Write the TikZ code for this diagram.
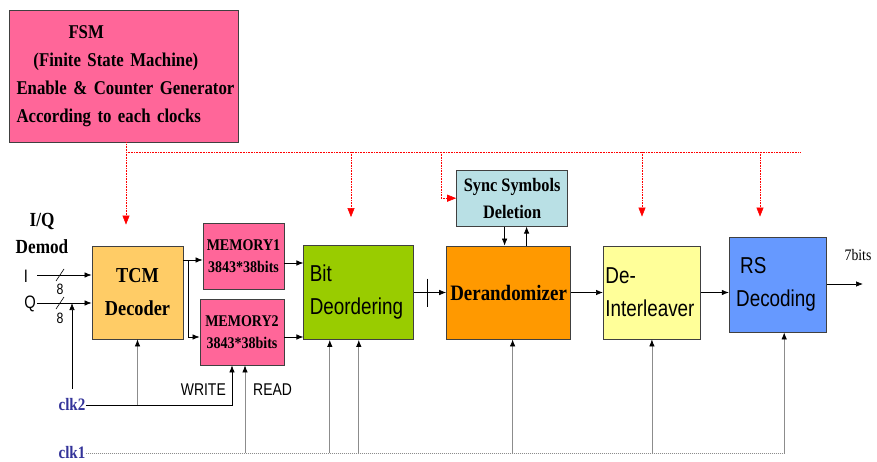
\documentclass[tikz,border=0pt]{standalone}
\usepackage{fontspec}
\usepackage{xcolor}
\usetikzlibrary{arrows.meta, positioning}
\newfontfamily\timesc[FakeStretch=0.86]{Liberation Serif}
\newfontfamily\gulim[FakeStretch=0.82]{Liberation Sans}
\definecolor{fsmpink}{HTML}{FF6699}
\definecolor{tcmorange}{HTML}{FFCC66}
\definecolor{bitgreen}{HTML}{99CC00}
\definecolor{syncblue}{HTML}{B9E0E5}
\definecolor{derandorange}{HTML}{FF9900}
\definecolor{deintyellow}{HTML}{FFFF99}
\definecolor{rsblue}{HTML}{6699FF}
\definecolor{clknavy}{HTML}{333399}

\begin{document}
\begin{tikzpicture}[
    x=1pt, y=-1pt,
    block/.style={draw=black!75, line width=0.8pt, inner sep=0pt, align=center},
    serifbox/.style={block, font=\timesc\bfseries},
    sansbox/.style={block, align=left, font=\gulim\fontsize{23}{33}\selectfont},
    lab/.style={inner sep=0pt, align=center},
    arr/.style={-{Latex[length=7pt,width=5.5pt]}, line width=0.7pt},
    clkarr/.style={-{Latex[length=7pt,width=5.5pt,color=black]}, draw=black!45, line width=0.8pt},
    clkbus/.style={draw=black!45, densely dotted, line width=1pt},
    ctl/.style={-{Triangle[length=9pt,width=7pt]}, red, densely dotted, line width=0.6pt}
  ]
  \useasboundingbox (0,0) rectangle (877,462);

  % blocks
  \node[serifbox, fill=fsmpink, align=left, text width=224pt, inner xsep=2.5pt, minimum height=132pt,
        font=\timesc\bfseries\fontsize{19.5}{28}\selectfont] (fsm) at (123.5,76)
    {\hspace*{57pt}FSM\\ \hspace*{22pt}(Finite State Machine)\\ \hspace*{5pt}Enable \& Counter Generator\\ \hspace*{5pt}According to each clocks\\[-8pt]};
  \node[serifbox, fill=tcmorange, minimum width=91pt, minimum height=93pt,
        font=\timesc\bfseries\fontsize{21.3}{33}\selectfont] (tcm) at (137.5,292.5) {TCM\\Decoder};
  \node[serifbox, fill=fsmpink, minimum width=81pt, minimum height=66pt,
        font=\timesc\bfseries\fontsize{16.3}{22}\selectfont] (mem1) at (243.5,256) {MEMORY1\\3843*38bits};
  \node[serifbox, fill=fsmpink, minimum width=84pt, minimum height=66pt,
        font=\timesc\bfseries\fontsize{16.3}{22}\selectfont] (mem2) at (242,332) {MEMORY2\\3843*38bits};
  \node[sansbox, fill=bitgreen, text width=98pt, inner xsep=6pt, minimum height=94pt,
        right=120pt of tcm] (bit) {Bit\\Deordering};
  \node[serifbox, fill=derandorange, minimum width=124pt, minimum height=93pt,
        font=\timesc\bfseries\fontsize{22}{26}\selectfont, right=32pt of bit] (derand) {Derandomizer};
  \node[serifbox, fill=syncblue, minimum width=111pt, minimum height=56pt,
        font=\timesc\bfseries\fontsize{19}{27}\selectfont, above=19pt of derand, xshift=3.5pt] (sync) {Sync Symbols\\Deletion};
  \node[sansbox, fill=deintyellow, text width=93pt, inner xsep=2pt, minimum height=93pt,
        right=32pt of derand] (deint) {De-\\Interleaver};
  \node[sansbox, fill=rsblue, text width=83pt, inner xsep=7pt, minimum height=95pt,
        right=28pt of deint, yshift=8pt] (rs) {\hspace*{4pt}RS\\Decoding};

  % labels
  \node[lab, font=\timesc\bfseries\fontsize{20}{27}\selectfont] (iq) at (42,233) {I/Q\\Demod};
  \node[lab, font=\gulim\fontsize{18}{20}\selectfont] (ilab) at (26,276) {I};
  \node[lab, font=\gulim\fontsize{18}{20}\selectfont] (qlab) at (30,304) {Q};
  \node[lab, font=\gulim\fontsize{15}{17}\selectfont] (ibits) at (60,289) {8};
  \node[lab, font=\gulim\fontsize{15}{17}\selectfont] (qbits) at (60,318) {8};
  \node[lab, font=\timesc\bfseries\fontsize{17.5}{20}\selectfont, text=clknavy] (clk2) at (72,405) {clk2};
  \node[lab, font=\timesc\bfseries\fontsize{17.5}{20}\selectfont, text=clknavy] (clk1) at (72,453) {clk1};
  \node[lab, font=\gulim\fontsize{17}{19}\selectfont, anchor=east] (write) at (226,390) {WRITE};
  \node[lab, font=\gulim\fontsize{17}{19}\selectfont, anchor=west] (read) at (253,390) {READ};
  \node[lab, font=\timesc\fontsize{16}{18}\selectfont] (bits) at (858,255) {7bits};

  \coordinate (iin) at (37,275);
  \coordinate (qin) at (37,303);
  \coordinate (split) at (188,260);
  \coordinate (out) at (863,284);
  \coordinate (bus) at (126,152);
  \coordinate (busend) at (801,152);
  \coordinate (b1) at (351,152);
  \coordinate (b2) at (441,152);
  \coordinate (b3) at (642,152);
  \coordinate (b4) at (760,152);

  % I/Q inputs
  \draw[arr] (iin) -- (iin -| tcm.west);
  \draw[line width=0.6pt] (iin -| ibits) +(-4,6) -- +(4,-6);
  \draw[arr] (qin) -- (qin -| tcm.west);
  \draw[line width=0.6pt] (qin -| qbits) +(-4,6) -- +(4,-6);
  \draw[arr] ([yshift=10pt]clk2.north) -- (clk2 |- qin);

  % data path
  \draw[line width=0.7pt] (split -| tcm.east) -- (split);
  \draw[arr] (split) -- (split -| mem1.west);
  \draw[arr] (split) |- ([yshift=-5pt]mem2.west);
  \draw[arr] ([yshift=-7pt]mem1.east) -- ([yshift=-7pt]mem1.east -| bit.west);
  \draw[arr] ([yshift=-5pt]mem2.east) -- ([yshift=-5pt]mem2.east -| bit.west);
  \draw[arr] (bit.east) -- (bit.east -| derand.west);
  \draw[line width=0.7pt] ([xshift=13pt]bit.east) +(0,-14) -- +(0,14);
  \draw[arr] ([xshift=-7.5pt]sync.south) -- ([xshift=-7.5pt]sync.south |- derand.north);
  \draw[arr] ([xshift=14.5pt]sync.south |- derand.north) -- ([xshift=14.5pt]sync.south);
  \draw[arr] (derand.east) -- (derand.east -| deint.west);
  \draw[arr] (deint.east) -- (deint.east -| rs.west);
  \draw[arr] (out -| rs.east) -- (out);

  % FSM control bus
  \draw[red, densely dotted, line width=0.6pt] (fsm.south -| bus) -- (bus) -- (busend);
  \draw[ctl, shorten >=21pt] (bus) -- (bus |- tcm.north);
  \draw[ctl, shorten >=28pt] (b1) -- (b1 |- bit.north);
  \draw[ctl] (b2) |- (sync.west);
  \draw[ctl, shorten >=29pt] (b3) -- (b3 |- deint.north);
  \draw[ctl, shorten >=20pt] (b4) -- (b4 |- rs.north);

  % clocks
  \draw[arr] (clk2.east) -| ([xshift=-10pt]mem2.south);
  \draw[clkarr] (tcm.south |- clk2.east) -- (tcm.south);
  \draw[clkbus] (clk1.east) -- ([xshift=6.5pt]rs.south |- clk1.east);
  \draw[clkarr] ([xshift=3pt]mem2.south |- clk1.east) -- ([xshift=3pt]mem2.south);
  \draw[clkarr] ([xshift=-29pt]bit.south |- clk1.east) -- ([xshift=-29pt]bit.south);
  \draw[clkarr] (bit.south |- clk1.east) -- (bit.south);
  \draw[clkarr] ([xshift=4pt]derand.south |- clk1.east) -- ([xshift=4pt]derand.south);
  \draw[clkarr] (deint.south |- clk1.east) -- (deint.south);
  \draw[clkarr] ([xshift=6.5pt]rs.south |- clk1.east) -- ([xshift=6.5pt]rs.south);
\end{tikzpicture}
\end{document}
